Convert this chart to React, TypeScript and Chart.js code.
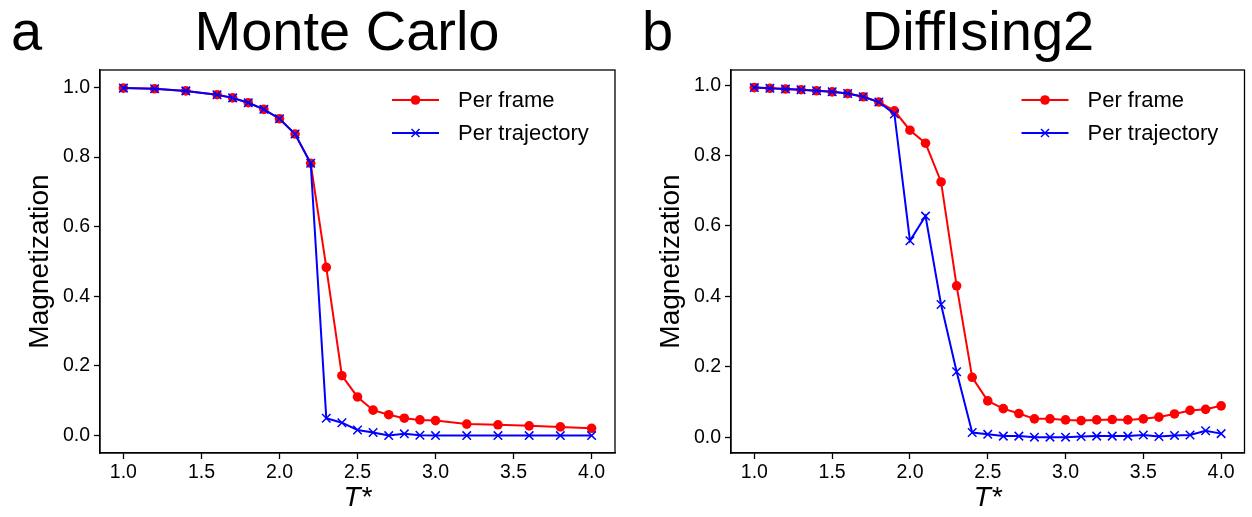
import React, { useEffect, useRef } from "react";
import { Chart, registerables } from "chart.js";

Chart.register(...registerables);

const FONT = '"Liberation Sans", Arial, Helvetica, sans-serif';

// ---- Data ----
const mcTemps = [1.0, 1.2, 1.4, 1.6, 1.7, 1.8, 1.9, 2.0, 2.1, 2.2, 2.3, 2.4, 2.5, 2.6, 2.7, 2.8, 2.9, 3.0, 3.2, 3.4, 3.6, 3.8, 4.0];
const mcPerFrame = [0.998, 0.996, 0.99, 0.979, 0.97, 0.956, 0.937, 0.91, 0.866, 0.782, 0.483, 0.172, 0.111, 0.073, 0.06, 0.05, 0.045, 0.043, 0.033, 0.031, 0.028, 0.025, 0.021];
const mcPerTrajectory = [0.998, 0.996, 0.99, 0.979, 0.97, 0.956, 0.937, 0.91, 0.866, 0.782, 0.05, 0.037, 0.016, 0.009, 0.0, 0.005, 0.001, 0.0, 0.0, 0.0, 0.0, 0.0, 0.0];

const diTemps = [1.0, 1.1, 1.2, 1.3, 1.4, 1.5, 1.6, 1.7, 1.8, 1.9, 2.0, 2.1, 2.2, 2.3, 2.4, 2.5, 2.6, 2.7, 2.8, 2.9, 3.0, 3.1, 3.2, 3.3, 3.4, 3.5, 3.6, 3.7, 3.8, 3.9, 4.0];
const diPerFrame = [0.993, 0.991, 0.989, 0.987, 0.984, 0.981, 0.976, 0.967, 0.952, 0.927, 0.872, 0.835, 0.725, 0.43, 0.17, 0.103, 0.081, 0.067, 0.052, 0.052, 0.049, 0.047, 0.049, 0.05, 0.049, 0.052, 0.057, 0.066, 0.076, 0.079, 0.089];
const diPerTrajectory = [0.993, 0.991, 0.989, 0.987, 0.984, 0.981, 0.976, 0.967, 0.952, 0.918, 0.558, 0.628, 0.377, 0.186, 0.013, 0.008, 0.003, 0.003, 0.0, 0.0, 0.0, 0.002, 0.003, 0.003, 0.003, 0.006, 0.002, 0.005, 0.006, 0.018, 0.01];

const xTickValues = [1.0, 1.5, 2.0, 2.5, 3.0, 3.5, 4.0];
const yTickValues = [0.0, 0.2, 0.4, 0.6, 0.8, 1.0];
const seriesLabels = ["Per frame", "Per trajectory"];
const panelLetters = ["a", "b"];
const panelTitles = ["Monte Carlo", "DiffIsing2"];
const xLabel = "T*";
const yLabel = "Magnetization";

const RED = "#ff0000";
const BLUE = "#0000ff";

function toPoints(xs: number[], ys: number[]) {
  return xs.map((x, i) => ({ x, y: ys[i] }));
}

function decorPlugin(letter: string, title: string) {
  return {
    id: "decor",
    afterDraw(chart: any) {
      const { ctx, chartArea: a } = chart;
      ctx.save();
      // full frame (spines)
      ctx.strokeStyle = "#000";
      ctx.lineWidth = 1.3;
      ctx.strokeRect(a.left, a.top, a.right - a.left, a.bottom - a.top);
      // panel letter and title
      ctx.fillStyle = "#000";
      ctx.font = `56px ${FONT}`;
      ctx.textBaseline = "alphabetic";
      ctx.textAlign = "left";
      ctx.fillText(letter, 11, 50);
      ctx.textAlign = "center";
      ctx.fillText(title, 347, 50);
      // legend
      const x0 = a.right - 223;
      const x1 = a.right - 176;
      const xm = (x0 + x1) / 2;
      const rows = [a.top + 30, a.top + 63];
      const colors = [RED, BLUE];
      rows.forEach((y, i) => {
        ctx.strokeStyle = colors[i];
        ctx.lineWidth = 2;
        ctx.beginPath();
        ctx.moveTo(x0, y);
        ctx.lineTo(x1, y);
        ctx.stroke();
        if (i === 0) {
          ctx.fillStyle = RED;
          ctx.beginPath();
          ctx.arc(xm, y, 4.8, 0, Math.PI * 2);
          ctx.fill();
        } else {
          ctx.lineWidth = 1.5;
          const r = 4;
          ctx.beginPath();
          ctx.moveTo(xm - r, y - r);
          ctx.lineTo(xm + r, y + r);
          ctx.moveTo(xm + r, y - r);
          ctx.lineTo(xm - r, y + r);
          ctx.stroke();
        }
        ctx.fillStyle = "#000";
        ctx.font = `22px ${FONT}`;
        ctx.textAlign = "left";
        ctx.textBaseline = "middle";
        ctx.fillText(seriesLabels[i], a.right - 157, y + 1);
      });
      ctx.restore();
    },
  };
}

function makeConfig(
  xs: number[],
  frame: number[],
  traj: number[],
  yMin: number,
  yMax: number,
  padRight: number,
  letter: string,
  title: string
): any {
  return {
    type: "line",
    data: {
      datasets: [
        {
          label: seriesLabels[0],
          data: toPoints(xs, frame),
          borderColor: RED,
          backgroundColor: RED,
          borderWidth: 2,
          pointStyle: "circle",
          pointRadius: 4.8,
          pointBorderWidth: 0,
          pointBackgroundColor: RED,
          tension: 0,
          order: 2,
        },
        {
          label: seriesLabels[1],
          data: toPoints(xs, traj),
          borderColor: BLUE,
          backgroundColor: BLUE,
          borderWidth: 2,
          pointStyle: "crossRot",
          pointRadius: 6,
          pointBorderWidth: 1.5,
          pointBorderColor: BLUE,
          tension: 0,
          order: 1,
        },
      ],
    },
    options: {
      animation: false,
      responsive: false,
      devicePixelRatio: 1,
      layout: { padding: { top: 70, left: 0, right: padRight, bottom: 0 } },
      plugins: {
        legend: { display: false },
        tooltip: { enabled: false },
        title: { display: false },
      },
      scales: {
        x: {
          type: "linear",
          min: 0.85,
          max: 4.15,
          afterBuildTicks: (s: any) => {
            s.ticks = xTickValues.map((v) => ({ value: v }));
          },
          afterFit: (s: any) => {
            s.height = 64;
          },
          grid: {
            drawOnChartArea: false,
            drawTicks: true,
            tickLength: 6,
            tickWidth: 1.3,
            tickColor: "#000",
          },
          border: { display: true, color: "#000", width: 1.3 },
          ticks: {
            color: "#000",
            font: { family: FONT, size: 19.5 },
            padding: 2,
            maxRotation: 0,
            autoSkip: false,
            callback: (v: any) => Number(v).toFixed(1),
          },
          title: {
            display: true,
            text: xLabel,
            color: "#000",
            font: { family: FONT, size: 28, style: "italic" },
            padding: { top: 0, bottom: 2 },
          },
        },
        y: {
          type: "linear",
          min: yMin,
          max: yMax,
          afterBuildTicks: (s: any) => {
            s.ticks = yTickValues.map((v) => ({ value: v }));
          },
          afterFit: (s: any) => {
            s.width = 100;
          },
          grid: {
            drawOnChartArea: false,
            drawTicks: true,
            tickLength: 6,
            tickWidth: 1.3,
            tickColor: "#000",
          },
          border: { display: true, color: "#000", width: 1.3 },
          ticks: {
            color: "#000",
            font: { family: FONT, size: 19.5 },
            padding: 4,
            autoSkip: false,
            callback: (v: any) => Number(v).toFixed(1),
          },
          title: {
            display: true,
            text: yLabel,
            color: "#000",
            font: { family: FONT, size: 28 },
            padding: { top: 23, bottom: 0 },
          },
        },
      },
    },
    plugins: [decorPlugin(letter, title)],
  };
}

function Panel(props: { config: any; left: number; width: number }) {
  const ref = useRef<HTMLCanvasElement | null>(null);
  useEffect(() => {
    if (!ref.current) return;
    const chart = new Chart(ref.current, props.config);
    return () => chart.destroy();
  }, []);
  return (
    <canvas
      ref={ref}
      width={props.width}
      height={517}
      style={{ position: "absolute", left: props.left, top: 0, width: props.width, height: 517 }}
    />
  );
}

export default function App() {
  const left = makeConfig(mcTemps, mcPerFrame, mcPerTrajectory, -0.05, 1.05, 16, panelLetters[0], panelTitles[0]);
  const right = makeConfig(diTemps, diPerFrame, diPerTrajectory, -0.045, 1.043, 7, panelLetters[1], panelTitles[1]);
  return (
    <div style={{ position: "fixed", left: 0, top: 0, width: 1252, height: 517, background: "#fff" }}>
      <Panel config={left} left={0} width={631} />
      <Panel config={right} left={631} width={621} />
    </div>
  );
}
